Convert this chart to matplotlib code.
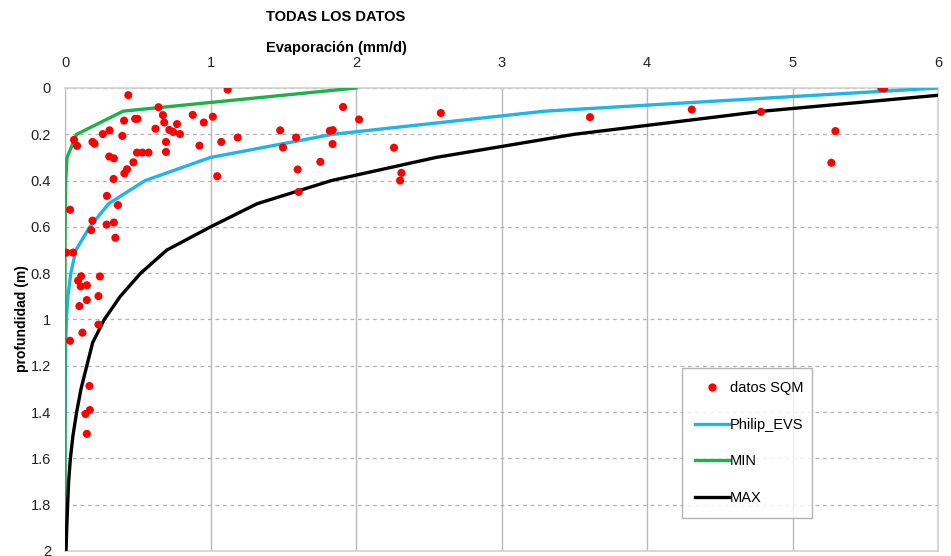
import matplotlib.pyplot as plt
from matplotlib.lines import Line2D

plt.rcParams['font.family'] = ['Liberation Sans', 'DejaVu Sans']

# datos SQM: evaporacion (mm/d) vs profundidad (m)
sqm_evap = [0.435, 1.118, 0.643, 0.673, 0.682, 0.770, 0.878, 0.954, 1.016, 0.717,
            0.744, 0.790, 0.622, 0.406, 0.482, 0.498, 0.306, 0.260, 0.394, 0.062,
            0.083, 0.189, 0.203, 0.694, 0.694, 0.495, 0.532, 0.574, 0.304, 0.336,
            0.470, 0.426, 0.408, 0.334, 0.924, 1.074, 1.187, 1.479, 1.498, 1.588,
            1.599, 1.606, 1.046, 1.755, 0.288, 0.364, 0.035, 0.189, 0.180, 0.286,
            0.336, 0.346, 0.009, 0.055, 0.111, 0.240, 0.090, 0.150, 0.108, 0.230,
            0.150, 0.099, 0.230, 0.120, 0.035, 0.168, 0.171, 0.141, 0.150, 1.820,
            1.840, 1.839, 1.911, 2.021, 2.261, 2.312, 2.303, 2.583, 3.608, 4.308,
            4.783, 5.295, 5.267, 5.610, 5.630]
sqm_prof = [0.031, 0.007, 0.083, 0.117, 0.149, 0.156, 0.116, 0.149, 0.124, 0.181,
            0.190, 0.199, 0.176, 0.141, 0.133, 0.133, 0.183, 0.199, 0.207, 0.224,
            0.250, 0.233, 0.241, 0.233, 0.276, 0.279, 0.279, 0.279, 0.296, 0.304,
            0.321, 0.351, 0.369, 0.393, 0.249, 0.233, 0.214, 0.183, 0.257, 0.214,
            0.352, 0.449, 0.381, 0.319, 0.466, 0.506, 0.526, 0.573, 0.614, 0.590,
            0.581, 0.647, 0.711, 0.711, 0.813, 0.814, 0.832, 0.852, 0.857, 0.899,
            0.916, 0.942, 1.022, 1.057, 1.092, 1.287, 1.391, 1.408, 1.494, 0.185,
            0.182, 0.242, 0.082, 0.136, 0.258, 0.367, 0.400, 0.108, 0.126, 0.093,
            0.103, 0.186, 0.323, 0.000, 0.002]

# curvas
prof_curva = [0.0, 0.1, 0.2, 0.3, 0.4, 0.5, 0.6, 0.7, 0.8, 0.9, 1.0,
              1.1, 1.2, 1.3, 1.4, 1.5, 1.6, 1.7, 1.8, 1.9, 2.0]
philip_evs = [6.0, 3.30, 1.84, 1.00, 0.55, 0.30, 0.17, 0.075, 0.04, 0.02, 0.01,
              0.005, 0.003, 0.002, 0.001, 0.0, 0.0, 0.0, 0.0, 0.0, 0.0]
evap_min = [2.0, 0.40, 0.08, 0.014, 0.005, 0.002, 0.001, 0.0, 0.0, 0.0, 0.0,
            0.0, 0.0, 0.0, 0.0, 0.0, 0.0, 0.0, 0.0, 0.0, 0.0]
evap_max = [6.55, 4.80, 3.50, 2.55, 1.83, 1.32, 1.00, 0.70, 0.52, 0.38, 0.27,
            0.19, 0.15, 0.11, 0.08, 0.055, 0.037, 0.025, 0.018, 0.012, 0.007]

c_blue = '#1fb4ec'
c_green = '#1db14b'
c_red = '#ff0000'

fig = plt.figure(figsize=(9.51, 5.56), dpi=100)
ax = fig.add_axes([65/951, 1-551/556, (938-65)/951, (551-88)/556])

ax.plot(philip_evs, prof_curva, color=c_blue, lw=2.4, zorder=3)
ax.plot(evap_min, prof_curva, color=c_green, lw=2.4, zorder=3)
ax.plot(evap_max, prof_curva, color='black', lw=2.4, zorder=3)
ax.scatter(sqm_evap, sqm_prof, s=34, color=c_red, edgecolors='none', zorder=4)

ax.set_xlim(0, 6)
ax.set_ylim(2, 0)
ax.xaxis.tick_top()
ax.set_xticks(range(0, 7))
ax.set_yticks([i*0.2 for i in range(11)])
ax.set_yticklabels(['0', '0.2', '0.4', '0.6', '0.8', '1', '1.2', '1.4', '1.6', '1.8', '2'])
ax.tick_params(length=0, labelsize=10.5, colors='#222222')
ax.tick_params(axis='x', pad=13)
ax.tick_params(axis='y', pad=10)

ax.grid(axis='x', color='#b8b8b8', lw=1.0, ls='-')
ax.grid(axis='y', color='#b0b0b0', lw=0.9, ls=(0, (3, 3)))
ax.set_axisbelow(True)
for side in ['top', 'bottom', 'right']:
    ax.spines[side].set_color('#d0d0d0')
    ax.spines[side].set_linewidth(1.2)
ax.spines['left'].set_color('#b8b8b8')

fig.text(336/951, 1-17/556, 'TODAS LOS DATOS', ha='center', va='center',
         fontsize=10.5, fontweight='bold')
fig.text(336/951, 1-48/556, 'Evaporación (mm/d)', ha='center', va='center',
         fontsize=10.5, fontweight='bold')
fig.text(22/951, 1-319/556, 'profundidad (m)', ha='center', va='center',
         rotation=90, fontsize=10, fontweight='bold')

handles = [Line2D([], [], ls='none', marker='o', ms=6, color=c_red, mec='none'),
           Line2D([], [], color=c_blue, lw=2.4),
           Line2D([], [], color=c_green, lw=2.4),
           Line2D([], [], color='black', lw=2.4)]
lg = ax.legend(handles, ['datos SQM', 'Philip_EVS', 'MIN', 'MAX'],
               loc='lower left', bbox_to_anchor=((682-65)/873, (551-518)/463,
                                                 130/873, 145/463),
               mode='expand', fancybox=False, prop={'size': 10.5},
               labelspacing=1.55, handlelength=2.3, handletextpad=0.1,
               borderpad=0.9, borderaxespad=0)
lg.get_frame().set_edgecolor('#a0a0a0')
lg.get_frame().set_linewidth(1.0)

plt.savefig('out.png', dpi=100)
